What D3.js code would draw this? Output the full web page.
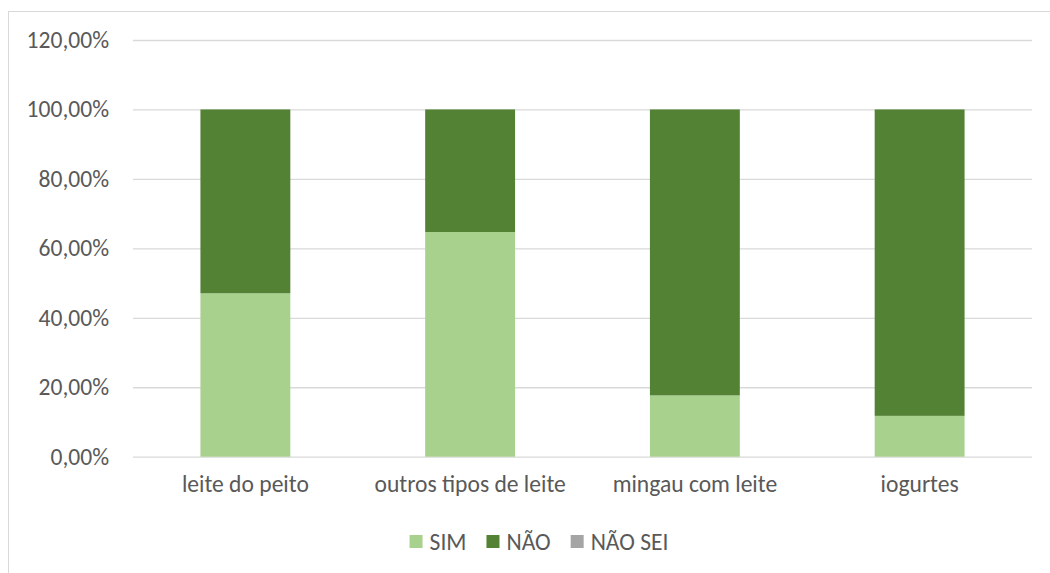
<!DOCTYPE html>
<html>
<head>
<meta charset="utf-8">
<script src="https://cdn.jsdelivr.net/npm/d3@7"></script>
<style>
  html, body { margin: 0; padding: 0; background: #fff; }
  svg { display: block; }
  text { font-family: Carlito, Lato, "Open Sans", sans-serif; fill: #595959; }
</style>
</head>
<body>
<svg id="chart" width="1050" height="573"></svg>
<script>
// Categories and shares per answer (fractions of 1)
const categories = ["leite do peito", "outros tipos de leite", "mingau com leite", "iogurtes"];
const seriesNames = ["SIM", "NÃO", "NÃO SEI"];
const simValues   = [0.4706, 0.6471, 0.1765, 0.1176];
const naoValues   = [0.5294, 0.3529, 0.8235, 0.8824];
const naoSeiValues = [0, 0, 0, 0];
const yTicks = [0, 0.2, 0.4, 0.6, 0.8, 1.0, 1.2];
const colors = ["#A9D18E", "#548235", "#A5A5A5"];

const svg = d3.select("#chart");

const ptBR = d3.formatLocale({ decimal: ",", thousands: ".", grouping: [3], currency: ["R$", ""] });
const pct = ptBR.format(".2%");

// Size the font so the widest tick label spans about 82px
const probe = svg.append("text").attr("font-size", 20).text(pct(1.2));
const FONT = 20 * 82.5 / probe.node().getComputedTextLength();
probe.remove();

// Chart frame
svg.append("rect")
  .attr("x", 8.5).attr("y", 11.5)
  .attr("width", 1100).attr("height", 700)
  .attr("fill", "#fff").attr("stroke", "#D9D9D9").attr("stroke-width", 1);

const plot = { left: 133, right: 1032, top: 40, bottom: 456.7 };

const rows = categories.map((c, i) => ({
  cat: c, "SIM": simValues[i], "NÃO": naoValues[i], "NÃO SEI": naoSeiValues[i]
}));

const x = d3.scaleBand()
  .domain(categories)
  .range([plot.left, plot.right])
  .paddingInner(0.6)
  .paddingOuter(0.3);

const y = d3.scaleLinear()
  .domain([0, 1.2])
  .range([plot.bottom, plot.top]);

// Gridlines and y tick labels
const yAxis = d3.axisLeft(y)
  .tickValues(yTicks)
  .tickSize(-(plot.right - plot.left))
  .tickPadding(24)
  .tickFormat(pct);

const gy = svg.append("g")
  .attr("transform", `translate(${plot.left},0)`)
  .call(yAxis);
gy.select(".domain").remove();
gy.selectAll(".tick line").attr("stroke", "#D9D9D9").attr("stroke-width", 1.3);
gy.selectAll(".tick text")
  .attr("font-size", FONT)
  .attr("fill", "#595959")
  .style("font-family", "Carlito, Lato, 'Open Sans', sans-serif");

// Stacked bars
const stack = d3.stack().keys(seriesNames)(rows);
svg.append("g").selectAll("g")
  .data(stack)
  .join("g")
  .attr("fill", (d, i) => colors[i])
  .selectAll("rect")
  .data(d => d)
  .join("rect")
  .attr("x", d => x(d.data.cat))
  .attr("width", x.bandwidth())
  .attr("y", d => y(d[1]))
  .attr("height", d => y(d[0]) - y(d[1]));

// Category labels
const xAxis = d3.axisBottom(x).tickSize(0).tickPadding(19);
const gx = svg.append("g")
  .attr("transform", `translate(0,${plot.bottom})`)
  .call(xAxis);
gx.select(".domain").remove();
gx.selectAll(".tick text")
  .attr("font-size", FONT)
  .attr("fill", "#595959")
  .style("font-family", "Carlito, Lato, 'Open Sans', sans-serif");

// Legend
const legend = svg.append("g");
const sq = 13, gapText = 7, gapItem = 20;
const items = legend.selectAll("g").data(seriesNames).join("g");
items.append("rect")
  .attr("width", sq).attr("height", sq)
  .attr("y", -sq / 2)
  .attr("fill", (d, i) => colors[i]);
items.append("text")
  .attr("x", sq + gapText)
  .attr("dy", "0.35em")
  .attr("font-size", FONT)
  .text(d => d);
let offset = 0;
items.each(function () {
  const g = d3.select(this);
  g.attr("transform", `translate(${offset},0)`);
  const w = sq + gapText + g.select("text").node().getComputedTextLength();
  offset += w + gapItem;
});
const total = offset - gapItem;
legend.attr("transform", `translate(${539 - total / 2},${541.5})`);
</script>
</body>
</html>
